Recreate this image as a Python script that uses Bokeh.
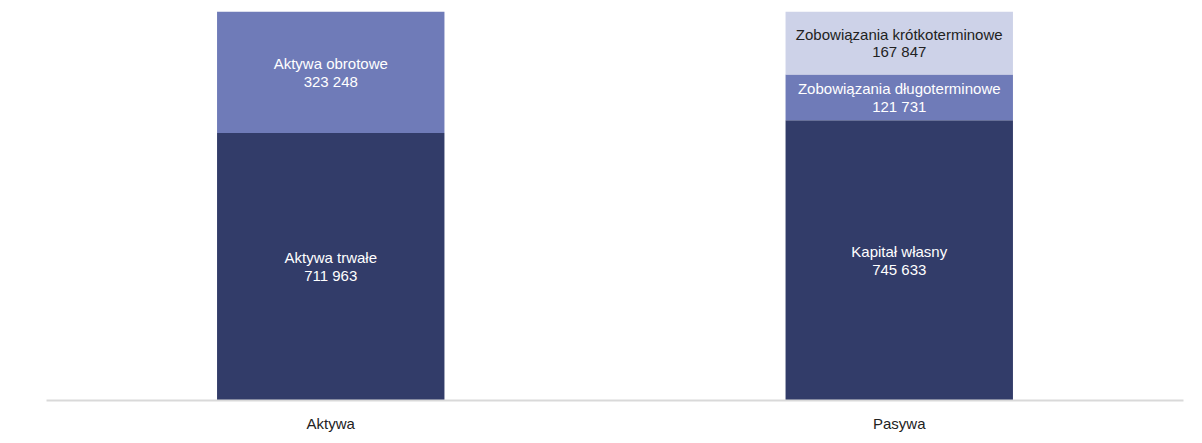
from bokeh.plotting import figure
from bokeh.models import FactorRange, Range1d, ColumnDataSource
from bokeh.core.properties import value
from bokeh.embed import file_html
from bokeh.resources import INLINE

categories = ["Aktywa", "Pasywa"]
aktywa_labels = ["Aktywa trwałe", "Aktywa obrotowe"]
aktywa_values = [711963, 323248]
pasywa_labels = ["Kapitał własny", "Zobowiązania długoterminowe", "Zobowiązania krótkoterminowe"]
pasywa_values = [745633, 121731, 167847]
level_colors = ["#323c69", "#6f7bb8", "#cdd2e8"]
level_text_colors = ["#ffffff", "#ffffff", "#222222"]

def fmt(v):
    return f"{v:,}".replace(",", " ")

xs, bottoms, tops, fills, texts, tcolors, mids = [], [], [], [], [], [], []
for cat, labels, vals in [(categories[0], aktywa_labels, aktywa_values),
                          (categories[1], pasywa_labels, pasywa_values)]:
    acc = 0
    for i, (lab, v) in enumerate(zip(labels, vals)):
        xs.append(cat)
        bottoms.append(acc)
        tops.append(acc + v)
        mids.append(acc + v / 2)
        fills.append(level_colors[i])
        tcolors.append(level_text_colors[i])
        texts.append(f"{lab}\n{fmt(v)}")
        acc += v

total = max(sum(aktywa_values), sum(pasywa_values))

src = ColumnDataSource(dict(x=xs, bottom=bottoms, top=tops, fill=fills,
                            text=texts, tcolor=tcolors, mid=mids))

p = figure(x_range=FactorRange(*categories, range_padding=0),
           y_range=Range1d(0, total),
           width=1185, height=440, output_backend="svg", toolbar_location=None,
           min_border_left=46, min_border_right=2, min_border_top=11, min_border_bottom=40)

p.vbar(x="x", bottom="bottom", top="top", width=0.4, fill_color="fill",
       line_color=None, source=src)
p.text(x="x", y="mid", text="text", text_color="tcolor", source=src,
       text_align="center", text_baseline="middle",
       text_font=value("Liberation Sans"), text_font_size="15px", text_line_height=1.05)

p.outline_line_color = None
p.grid.visible = False
p.yaxis.visible = False
p.xaxis.axis_line_color = "#d9d9d9"
p.xaxis.axis_line_width = 2
p.xaxis.major_tick_line_color = None
p.xaxis.minor_tick_line_color = None
p.xaxis.major_label_text_font = "Liberation Sans"
p.xaxis.major_label_text_font_size = "15px"
p.xaxis.major_label_text_color = "#222222"
p.xaxis.major_label_standoff = 8
p.background_fill_color = "white"
p.border_fill_color = "white"

open("out.html", "w").write(file_html(p, INLINE))
